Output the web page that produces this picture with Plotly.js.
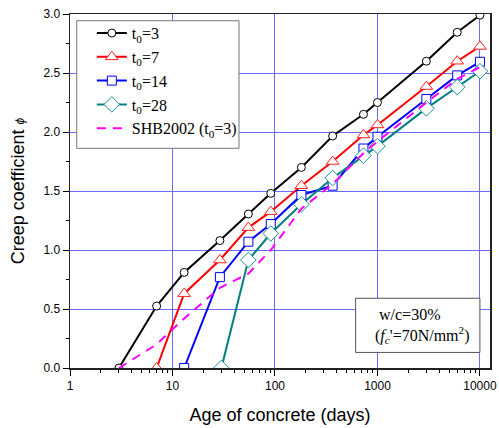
<!DOCTYPE html>
<html>
<head>
<meta charset="utf-8">
<script src="https://cdn.plot.ly/plotly-3.0.1.min.js"></script>
<style>html,body{margin:0;padding:0;background:#fff;}</style>
</head>
<body>
<div id="chart" style="width:499px;height:428px;"></div>
<script>
// Data
var age3 = [3, 7, 13, 29, 55, 91, 181, 365, 730, 1000, 3000, 6000, 10000];
var phi3 = [0, 0.525, 0.81, 1.08, 1.305, 1.48, 1.70, 1.966, 2.15, 2.25, 2.60, 2.845, 2.99];

var age7 = [7, 13, 29, 55, 91, 181, 365, 730, 1000, 3000, 6000, 10000];
var phi7 = [0, 0.63, 0.915, 1.19, 1.325, 1.545, 1.75, 1.975, 2.06, 2.385, 2.60, 2.725];

var age14 = [13, 29, 55, 91, 181, 365, 730, 1000, 3000, 6000, 10000];
var phi14 = [0, 0.77, 1.07, 1.22, 1.466, 1.545, 1.86, 1.96, 2.28, 2.48, 2.595];

var age28 = [30, 55, 91, 181, 365, 730, 1000, 3000, 6000, 10000];
var phi28 = [0, 0.915, 1.14, 1.387, 1.61, 1.80, 1.88, 2.2, 2.38, 2.515];

var ageSHB = [3, 7, 13, 29, 55, 91, 181, 365, 730, 1000, 3000, 6000, 10000];
var phiSHB = [0, 0.2, 0.42, 0.68, 0.80, 1.0, 1.35, 1.56, 1.82, 1.92, 2.25, 2.45, 2.55];

var names = ['t<sub>0</sub>=3', 't<sub>0</sub>=7', 't<sub>0</sub>=14', 't<sub>0</sub>=28', 'SHB2002 (t<sub>0</sub>=3)'];
var xTickVals = [1, 10, 100, 1000, 10000];
var xTickText = ['1', '10', '100', '1000', '10000'];
var xMinorVals = [2,3,4,5,6,7,8,9,20,30,40,50,60,70,80,90,200,300,400,500,600,700,800,900,2000,3000,4000,5000,6000,7000,8000,9000];

var traces = [
  {x: age3, y: phi3, name: names[0], mode: 'lines+markers',
   line: {color: '#000000', width: 2},
   marker: {symbol: 'circle', size: 8, color: '#ffffff', line: {color: '#000000', width: 1}}},
  {x: age7, y: phi7, name: names[1], mode: 'lines+markers',
   line: {color: '#ff0000', width: 2},
   marker: {symbol: 'triangle-up', size: 11, color: '#ffffff', line: {color: '#ff2020', width: 1}}},
  {x: age14, y: phi14, name: names[2], mode: 'lines+markers',
   line: {color: '#0000ff', width: 2},
   marker: {symbol: 'square', size: 9, color: '#ffffff', line: {color: '#0000ff', width: 1}}},
  {x: age28, y: phi28, name: names[3], mode: 'lines+markers',
   line: {color: '#008080', width: 2},
   marker: {symbol: 'diamond', size: 12, color: '#ffffff', line: {color: '#1a9090', width: 1}}},
  {x: ageSHB, y: phiSHB, name: names[4], mode: 'lines',
   line: {color: '#ff00ff', width: 2, dash: '9px,7px'}}
];

var axisFont = {family: 'Arial, "Liberation Sans", sans-serif', size: 12, color: '#000'};

var layout = {
  width: 499, height: 428, autosize: false,
  margin: {l: 70, r: 9, t: 14, b: 60},
  paper_bgcolor: '#ffffff', plot_bgcolor: '#ffffff',
  showlegend: true,
  xaxis: {
    type: 'log', range: [0, 4.098],
    tickmode: 'array', tickvals: xTickVals, ticktext: xTickText,
    ticks: 'outside', ticklen: 6, tickwidth: 1, tickcolor: '#000',
    minor: {tickvals: xMinorVals,
            ticks: 'outside', ticklen: 3, tickwidth: 1, tickcolor: '#000', showgrid: false},
    showgrid: true, gridcolor: '#6c6cff', gridwidth: 1,
    showline: true, linecolor: '#222', linewidth: 1.5, mirror: true,
    zeroline: false,
    tickfont: axisFont,
    title: {text: 'Age of concrete (days)', font: {family: 'Arial, "Liberation Sans", sans-serif', size: 18, color: '#000'}, standoff: 16}
  },
  yaxis: {
    range: [0, 3.0],
    tickmode: 'linear', tick0: 0, dtick: 0.5, tickformat: '.1f',
    ticks: 'outside', ticklen: 6, tickwidth: 1, tickcolor: '#000',
    minor: {dtick: 0.25, ticks: 'outside', ticklen: 3, tickwidth: 1, tickcolor: '#000', showgrid: false},
    showgrid: true, gridcolor: '#6c6cff', gridwidth: 1,
    showline: true, linecolor: '#222', linewidth: 1.5, mirror: true,
    zeroline: false,
    tickfont: axisFont,
    title: {text: 'Creep coefficient <i><span style="font-size:12px">ϕ</span></i>', font: {family: 'Arial, "Liberation Sans", sans-serif', size: 18, color: '#000'}, standoff: 14}
  },
  legend: {
    x: 0.052, y: 0.994, xanchor: 'left', yanchor: 'top',
    bgcolor: 'rgba(0,0,0,0)', borderwidth: 0,
    font: {family: '"Liberation Serif", "Times New Roman", serif', size: 16, color: '#000'},
    tracegroupgap: 0
  },
  shapes: [
    // legend frame
    {type: 'rect', xref: 'paper', yref: 'paper', x0: 0.016, x1: 0.4024, y0: 0.6206, y1: 0.981,
     line: {color: '#777', width: 1}, fillcolor: '#ffffff', layer: 'above'},
    // note frame
    {type: 'rect', xref: 'paper', yref: 'paper', x0: 0.680, x1: 0.976, y0: 0.044, y1: 0.197,
     line: {color: '#555', width: 1}, fillcolor: '#ffffff', layer: 'above'}
  ],
  annotations: [
    {xref: 'paper', yref: 'paper', x: 0.722, y: 0.12, xanchor: 'left', yanchor: 'middle',
     align: 'left', showarrow: false,
     text: '\u00a0w/c=30%<br>(<i>f<sub>c</sub></i>\'=70N/mm<sup>2</sup>)',
     font: {family: '"Liberation Serif", "Times New Roman", serif', size: 16, color: '#000'}}
  ]
};

Plotly.newPlot('chart', traces, layout, {displayModeBar: false, staticPlot: true});
</script>
</body>
</html>
